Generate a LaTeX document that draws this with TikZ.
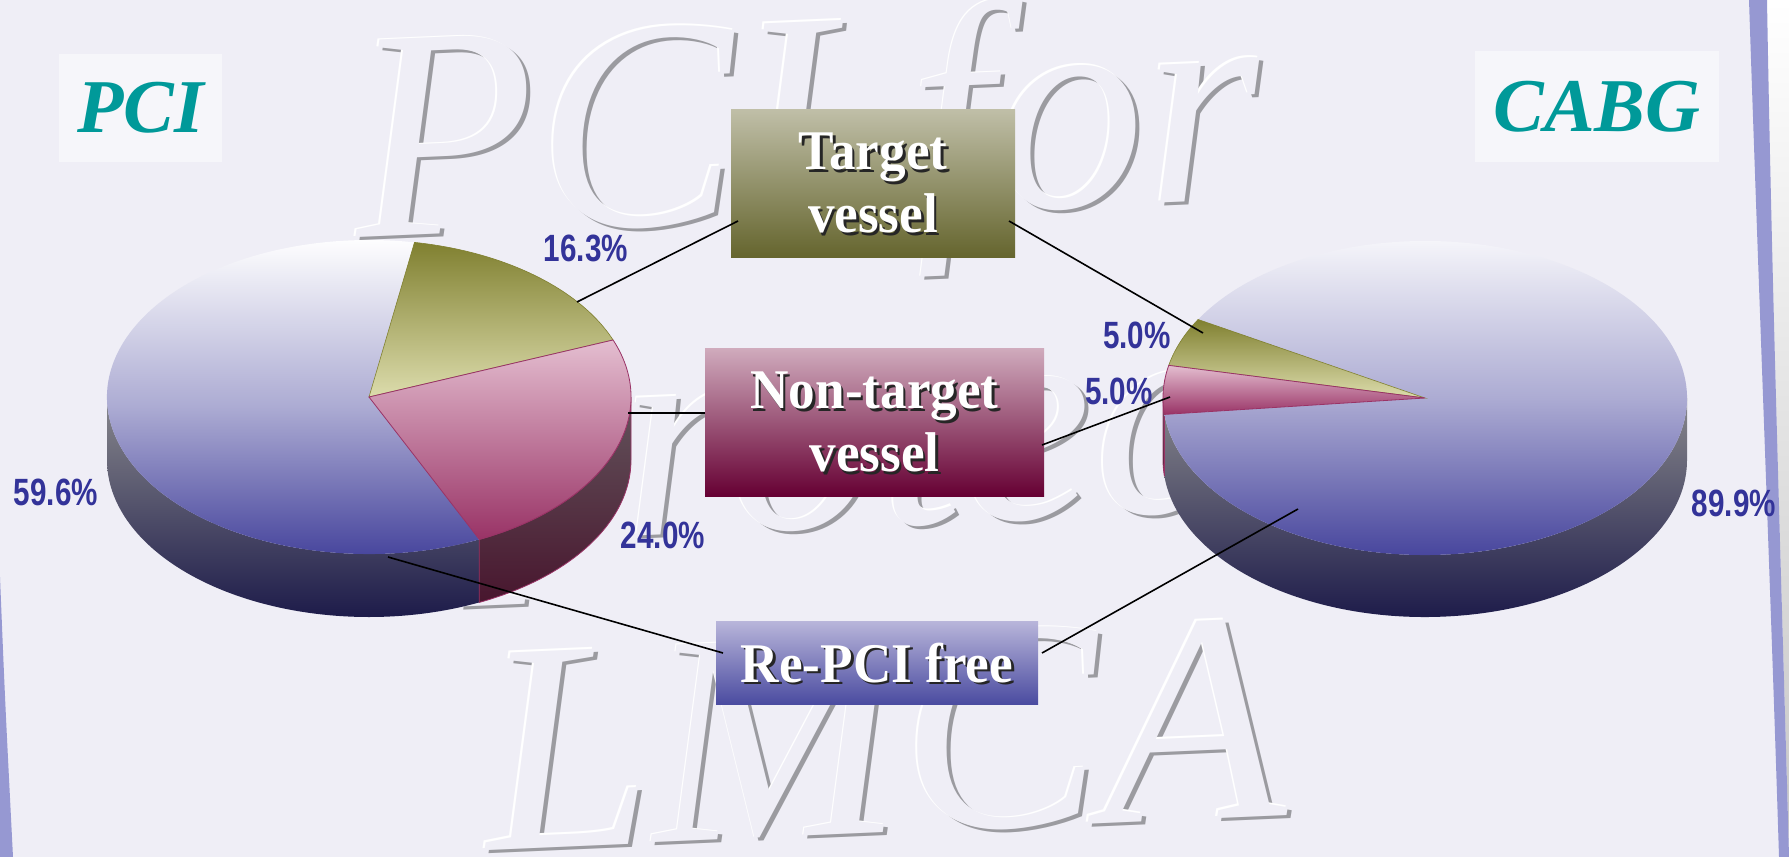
\documentclass[tikz,border=0pt]{standalone}
\usepackage{fontspec}
\setmainfont{Liberation Serif}
\newfontfamily\pctfont[FakeStretch=0.78]{Liberation Sans}
\newfontfamily\boxfont[FakeStretch=0.95]{Liberation Serif}
\usetikzlibrary{positioning}

\definecolor{slidebg}{RGB}{239,238,246}
\definecolor{embossgray}{RGB}{155,155,160}
\definecolor{pctblue}{RGB}{51,51,153}
\definecolor{tagteal}{RGB}{0,153,153}
\definecolor{tagfill}{RGB}{246,246,250}
\definecolor{bandblue}{RGB}{150,152,210}
\definecolor{pieblue}{RGB}{58,56,150}
\definecolor{sidegray}{RGB}{136,136,140}
\definecolor{sidenavy}{RGB}{26,24,72}
\definecolor{olivedark}{RGB}{128,128,48}
\definecolor{olivelight}{RGB}{220,220,172}
\definecolor{pinklight}{RGB}{228,190,208}
\definecolor{pinkdark}{RGB}{153,51,102}
\definecolor{pinkside}{RGB}{99,84,92}
\definecolor{pinksidedark}{RGB}{72,22,46}
\definecolor{tvtop}{RGB}{192,191,168}
\definecolor{tvbottom}{RGB}{101,101,46}
\definecolor{nttop}{RGB}{208,171,189}
\definecolor{ntbottom}{RGB}{102,0,51}
\definecolor{rftop}{RGB}{184,181,218}
\definecolor{rfbottom}{RGB}{74,75,160}

\begin{document}
\begin{tikzpicture}[x=1pt,y=-1pt,
    wmark/.style={inner sep=0pt,anchor=base west,rotate=2.5,font=\fontsize{300}{300}\selectfont\itshape},
    piesize/.style={x radius=262,y radius=157},
    bluetop/.style={top color=white,bottom color=pieblue,middle color=pieblue!42!white},
    olivetop/.style={top color=olivedark,bottom color=olivelight,draw=olivedark,line width=0.6},
    pinktop/.style={top color=pinklight,bottom color=pinkdark,draw=pinkdark,line width=0.8},
    bluewall/.style={top color=sidegray,bottom color=sidenavy},
    pinkwall/.style={top color=pinkside,bottom color=pinksidedark,draw=pinkdark,line width=0.8},
    grouptag/.style={fill=tagfill,text=tagteal,inner sep=0pt,font=\bfseries\itshape\fontsize{76}{76}\selectfont},
    legendbox/.style={inner sep=0pt},
    boxtext/.style={inner sep=0pt,align=center,text=white,font=\boxfont\bfseries\fontsize{56}{63}\selectfont},
    pct/.style={inner sep=0pt,text=pctblue,font=\pctfont\bfseries\fontsize{38}{38}\selectfont},
    leader/.style={color=black,line width=1.6}]

    \useasboundingbox (0,0) rectangle (1789,857);
    \fill[slidebg] (0,0) rectangle (1789,857);

    % slide edges
    \shade[top color=white,bottom color=gray!45] (1767,0) .. controls (1772,300) and (1782,600) .. (1789,857) -- (1789,0) -- cycle;
    \fill[bandblue] (1749,0) .. controls (1759,300) and (1771,600) .. (1779,857) -- (1789,857) .. controls (1782,600) and (1772,300) .. (1767,0) -- cycle;
    \fill[bandblue] (0,577) .. controls (5,700) .. (13,857) -- (0,857) -- cycle;

    % embossed watermark
    \foreach \dx/\dy/\c in {4/3/embossgray, -1.5/-1.5/white, 0/0/slidebg} {
        \node[wmark,text=\c] (wmtop-\c) at ([shift={(\dx,\dy)}]357,238) {PCI for};
        \node[wmark,text=\c] (wmmid-\c) at ([shift={(\dx,\dy)}]175,556) {unprotected};
        \node[wmark,text=\c] (wmbot-\c) at ([shift={(\dx,\dy)}]488,850) {LMCA};
    }

    % PCI pie
    \begin{scope}[shift={(369,397)}]
        \path[bluewall] (65.1:262 and 157) arc[piesize,start angle=65.1,end angle=180] -- ++(0,63) arc[piesize,start angle=180,end angle=65.1] -- cycle;
        \path[pinkwall] (0:262 and 157) arc[piesize,start angle=0,end angle=65.1] -- ++(0,63) arc[piesize,start angle=65.1,end angle=0] -- cycle;
        \path[bluetop] (0,0) -- (65.1:262 and 157) arc[piesize,start angle=65.1,end angle=280] -- cycle;
        \path[olivetop] (0,0) -- (-80:262 and 157) arc[piesize,start angle=-80,end angle=-21.3] -- cycle;
        \path[pinktop] (0,0) -- (-21.3:262 and 157) arc[piesize,start angle=-21.3,end angle=65.1] -- cycle;
    \end{scope}

    % CABG pie
    \begin{scope}[shift={(1425,398)}]
        \path[bluewall] (0:262 and 157) arc[piesize,start angle=0,end angle=174] -- ++(0,62) arc[piesize,start angle=174,end angle=0] -- cycle;
        \path[pinkwall] (174:262 and 157) arc[piesize,start angle=174,end angle=180] -- ++(0,62) arc[piesize,start angle=180,end angle=174] -- cycle;
        \path[bluetop] (0,0) -- (-150:262 and 157) arc[piesize,start angle=-150,end angle=174] -- cycle;
        \path[olivetop] (0,0) -- (-168:262 and 157) arc[piesize,start angle=-168,end angle=-150] -- cycle;
        \path[pinktop] (0,0) -- (174:262 and 157) arc[piesize,start angle=174,end angle=192] -- cycle;
    \end{scope}

    % group tags
    \node[grouptag,minimum width=163,minimum height=108] (pcitag) at (140.5,108) {PCI};
    \node[grouptag,minimum width=244,minimum height=111] (cabgtag) at (1597,106.5) {CABG};

    % legend boxes
    \node[legendbox,minimum width=284,minimum height=148,top color=tvtop,bottom color=tvbottom] (target) at (873,183) {};
    \node[legendbox,minimum width=339,minimum height=148,top color=nttop,bottom color=ntbottom] (nontarget) at (874.5,422) {};
    \node[legendbox,minimum width=322,minimum height=83,top color=rftop,bottom color=rfbottom] (repci) at (877,663) {};
    \foreach \bx/\txt in {target/{Target\\vessel}, nontarget/{Non-target\\vessel}, repci/{Re-PCI free}} {
        \node[boxtext,text=black!85] (\bx-shadow) at ([shift={(2.5,2.5)}]\bx.center) {\txt};
        \node[boxtext] (\bx-label) at (\bx.center) {\txt};
    }

    % leader ends
    \coordinate (tvL) at (738,221);
    \coordinate (tvR) at (1009,221);
    \coordinate (ntL) at (705,413);
    \coordinate (ntR) at (1042,445);
    \coordinate (rfL) at (723,653);
    \coordinate (rfR) at (1042,653);
    \coordinate (pciTV) at (577,302);
    \coordinate (pciNT) at (628,413);
    \coordinate (pciRF) at (388,557);
    \coordinate (cabgTV) at (1203,333);
    \coordinate (cabgNT) at (1170,397);
    \coordinate (cabgRF) at (1298,509);

    \draw[leader] (tvL) -- (pciTV);
    \draw[leader] (tvR) -- (cabgTV);
    \draw[leader] (ntL) -- (pciNT);
    \draw[leader] (ntR) -- (cabgNT);
    \draw[leader] (rfL) -- (pciRF);
    \draw[leader] (rfR) -- (cabgRF);

    % percentages
    \node[pct] (pct163) at (586,248) {16.3\%};
    \node[pct] (pct240) at (663,535) {24.0\%};
    \node[pct] (pct596) at (56,492) {59.6\%};
    \node[pct] (pcttv) at (1137,335) {5.0\%};
    \node[pct] (pctnt) at (1119,391) {5.0\%};
    \node[pct] (pct899) at (1734,503) {89.9\%};
\end{tikzpicture}
\end{document}
